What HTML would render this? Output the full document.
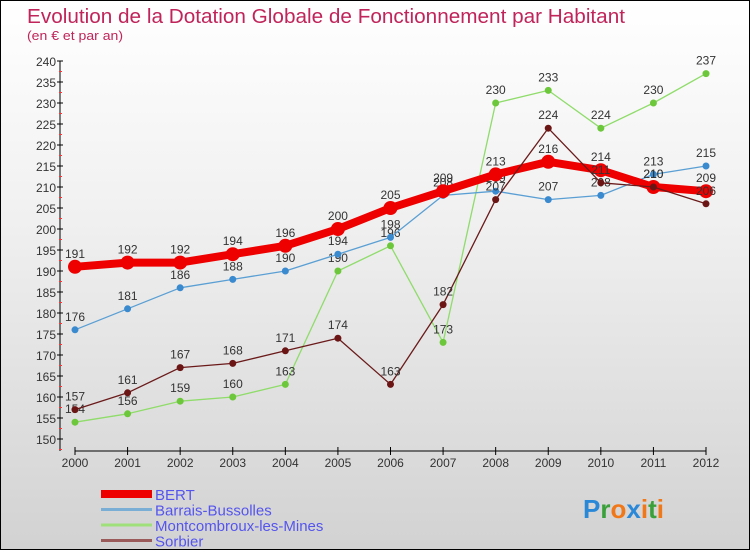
<!DOCTYPE html>
<html><head><meta charset="utf-8"><style>
body{margin:0;}
#wrap{position:relative;width:748px;height:548px;border:1px solid #000;background:linear-gradient(#ffffff,#f0f0f0 40%,#d2d2d2);font-family:"Liberation Sans",sans-serif;overflow:hidden}
</style></head><body>
<div id="wrap">
<svg id="chart" width="748" height="548"></svg>
</div>
<script>
const years=[2000,2001,2002,2003,2004,2005,2006,2007,2008,2009,2010,2011,2012];
const bert=[191,192,192,194,196,200,205,209,213,216,214,210,209];
const barrais=[176,181,186,188,190,194,198,208,209,207,208,213,215];
const montcombroux=[154,156,159,160,163,190,196,173,230,233,224,230,237];
const sorbier=[157,161,167,168,171,174,163,182,207,224,211,210,206];
const yTicks=[150,155,160,165,170,175,180,185,190,195,200,205,210,215,220,225,230,235,240];
const NS="http://www.w3.org/2000/svg";
const svg=document.getElementById('chart');
const x=i=>74+i*(631/12);
const y=v=>438-(v-150)*4.2;
function mk(t,a,p){const e=document.createElementNS(NS,t);for(const k in a)e.setAttribute(k,a[k]);(p||svg).appendChild(e);return e;}
let t=mk('text',{x:26,y:22,fill:'#c0245a','font-size':20,textLength:598,lengthAdjust:'spacingAndGlyphs'});t.textContent='Evolution de la Dotation Globale de Fonctionnement par Habitant';


t=mk('text',{x:26,y:39,fill:'#c0245a','font-size':13,textLength:96,lengthAdjust:'spacingAndGlyphs'});t.textContent='(en € et par an)';


let ax=mk('line',{x1:59,y1:y(240),x2:59,y2:450,stroke:'#000'});


yTicks.forEach(v=>{
 mk('line',{x1:56,x2:62,y1:y(v),y2:y(v),stroke:'#000'});
 mk('line',{x1:58,x2:61,y1:y(v)+10.5,y2:y(v)+10.5,stroke:'#f33'});
 const l=mk('text',{x:55,y:y(v)+5,'text-anchor':'end','font-size':12,fill:'#333'});l.textContent=v;
 
 
});
ax=mk('line',{x1:74,y1:450,x2:x(12),y2:450,stroke:'#000'});


years.forEach((yr,i)=>{
 mk('line',{x1:x(i),x2:x(i),y1:446,y2:454,stroke:'#000'});
 const l=mk('text',{x:x(i),y:466,'text-anchor':'middle','font-size':12,fill:'#333'});l.textContent=yr;
 
 
});
function series(data,color,dot,w,r,name){
 const g=mk('g',{});
 
 
 mk('polyline',{points:data.map((v,i)=>x(i)+','+y(v)).join(' '),fill:'none',stroke:color,'stroke-width':w,'stroke-linejoin':'round'},g);
 data.forEach((v,i)=>{
  const c=mk('circle',{cx:x(i),cy:y(v),r:r,fill:dot,stroke:w>3?'#e00':'none'},g);
  
  
  const l=mk('text',{x:x(i),y:y(v)-9,'text-anchor':'middle','font-size':12,fill:'#333'},g);l.textContent=v;
 });
}
series(montcombroux,'#8fdc6a','#6cc83a',1.3,3.5,'montcombroux');
series(barrais,'#5a9fd4','#3a8ad0',1.3,3.5,'barrais');
series(bert,'#ee0000','#ee0000',8,6.5,'bert');
series(sorbier,'#6b1a1a','#6b1515',1.3,3.5,'sorbier');
const leg=[['BERT','#e00',8],['Barrais-Bussolles','#7aaed4',3],['Montcombroux-les-Mines','#9fe07a',3],['Sorbier','#9a5a5a',3]];
leg.forEach((d,i)=>{
 const yy=493+i*15.5;
 const g=mk('g',{});
 
 
 mk('line',{x1:100,x2:151,y1:yy,y2:yy,stroke:d[1],'stroke-width':d[2]},g);
 const l=mk('text',{x:154,y:yy+6,'font-size':15,fill:'#5555ee'},g);l.textContent=d[0];
});
const lg=mk('text',{x:582,y:517,'font-size':26,'font-weight':'bold'});


[['P','#2a88d8'],['r','#3aa03a'],['o','#f07818'],['x','#2a88d8'],['i','#f07818'],['t','#3aa03a'],['i','#f07818']].forEach(c=>{const s=mk('tspan',{fill:c[1]},lg);s.textContent=c[0];});
</script>
</body></html>
